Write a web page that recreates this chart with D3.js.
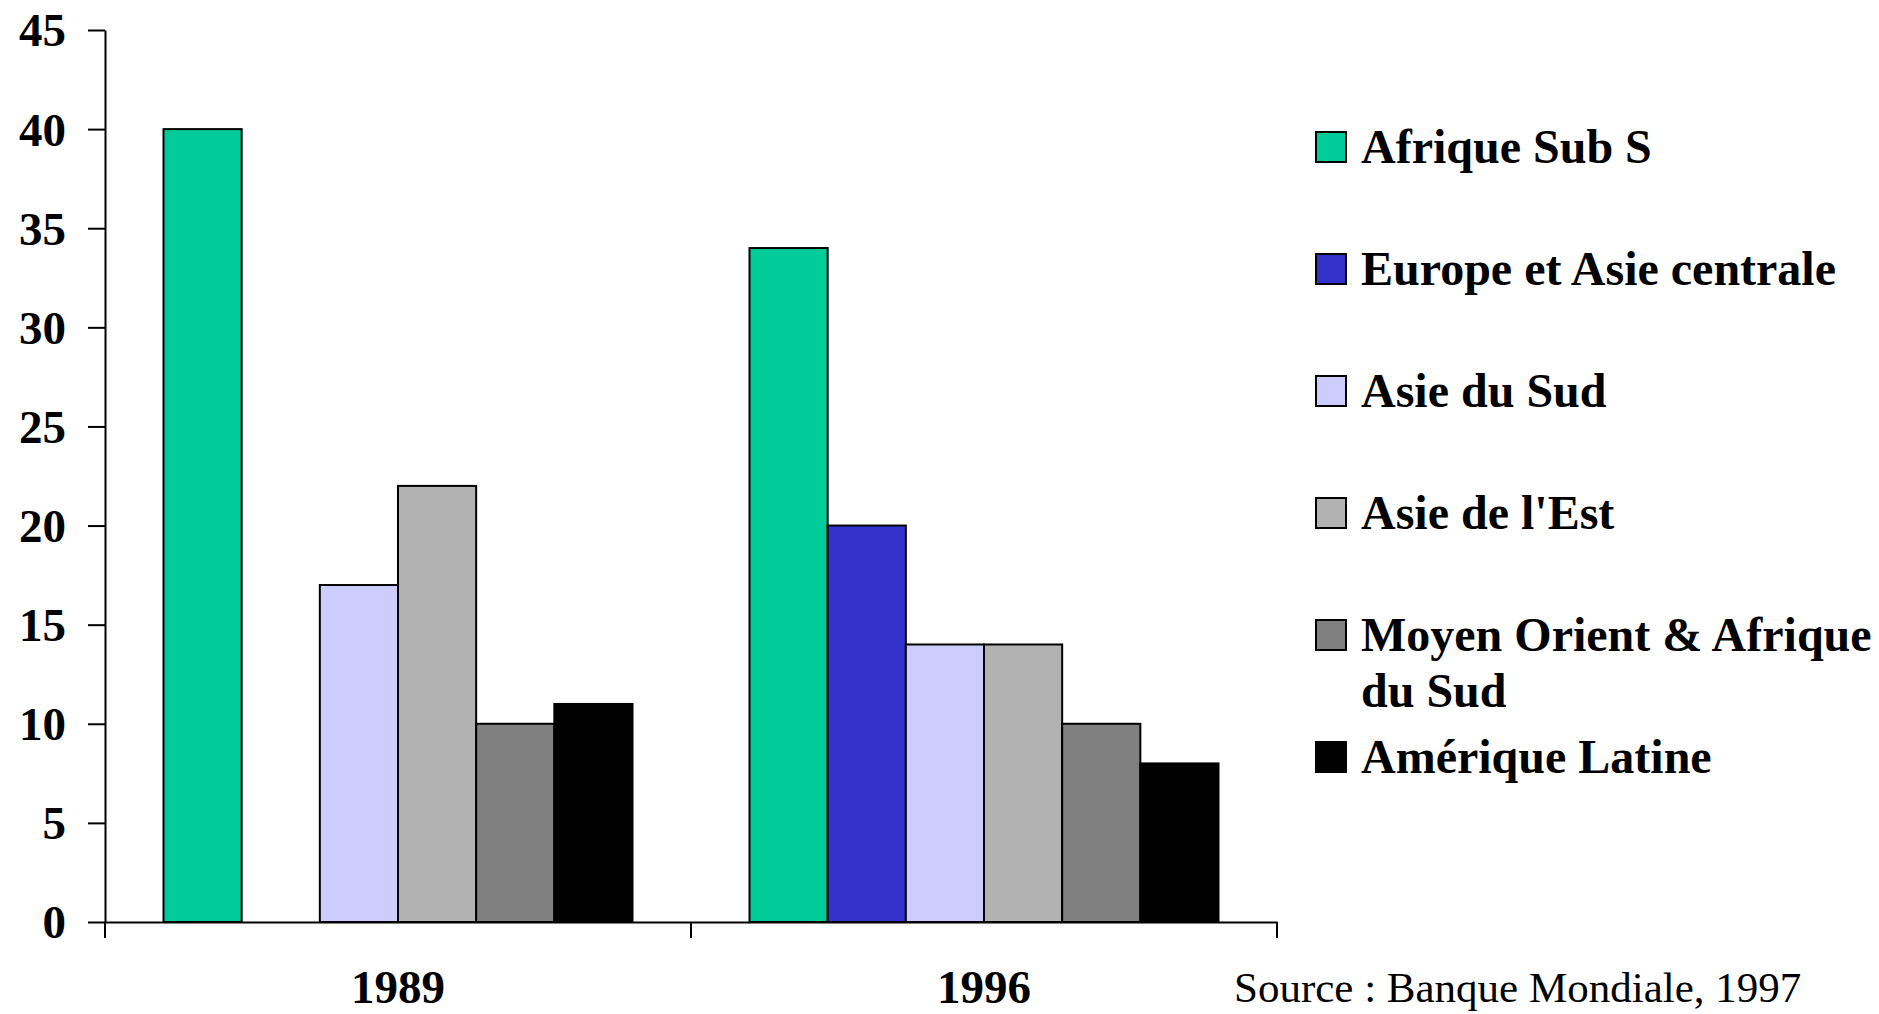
<!DOCTYPE html>
<html>
<head>
<meta charset="utf-8">
<script src="https://cdn.jsdelivr.net/npm/d3@7"></script>
<style>
    body { margin: 0; background: #fff; }
    svg text { font-family: "Liberation Serif", "Times New Roman", serif; fill: #000; }
    .axis path, .axis line { stroke: #000; stroke-width: 2px; }
    .axis text { font-size: 47px; font-weight: bold; }
    .legend text { font-size: 48px; font-weight: bold; }
    .source { font-size: 43px; }
</style>
</head>
<body>
<div id="chart"></div>
<script>
// data
var years = ['1989', '1996'];
var regions = ['Afrique Sub S', 'Europe et Asie centrale', 'Asie du Sud', "Asie de l'Est",
    'Moyen Orient & Afrique du Sud', 'Amérique Latine'];
var values1989 = [40, null, 17, 22, 10, 11];
var values1996 = [34, 20, 14, 14, 10, 8];
var yTicks = [0, 5, 10, 15, 20, 25, 30, 35, 40, 45];
var sourceText = 'Source : Banque Mondiale, 1997';

var regionColors = ['#00cc99', '#3333cc', '#ccccff', '#b2b2b2', '#808080', '#000000'];

var margin = { top: 30, right: 602, bottom: 92, left: 105 };
var totalWidth = 1879, totalHeight = 1014;
var width = totalWidth - margin.left - margin.right,
    height = totalHeight - margin.top - margin.bottom;

var svg = d3.select('#chart')
    .append('svg')
    .attr('width', totalWidth)
    .attr('height', totalHeight);

var g = svg.append('g')
    .attr('transform', 'translate(' + margin.left + ',' + margin.top + ')');

var data = years.map(function(yr, i) {
    var vals = i === 0 ? values1989 : values1996;
    return { year: yr, bars: regions.map(function(r, j) { return { region: r, value: vals[j] }; }) };
});

var x0 = d3.scaleBand()
    .domain(years)
    .range([0, width]);

var groupPad = 58.5;
var x1 = d3.scaleBand()
    .domain(regions)
    .range([groupPad, x0.bandwidth() - groupPad]);

var y = d3.scaleLinear()
    .domain([0, 45])
    .range([height, 0]);

var color = d3.scaleOrdinal()
    .domain(regions)
    .range(regionColors);

// bars
var groups = g.selectAll('.year')
    .data(data)
    .enter()
    .append('g')
    .attr('class', 'year')
    .attr('transform', function(d) { return 'translate(' + x0(d.year) + ',0)'; });

groups.selectAll('rect')
    .data(function(d) { return d.bars.filter(function(b) { return b.value != null; }); })
    .enter()
    .append('rect')
    .attr('x', function(d) { return x1(d.region); })
    .attr('width', x1.bandwidth())
    .attr('y', function(d) { return y(d.value); })
    .attr('height', function(d) { return height - y(d.value); })
    .attr('fill', function(d) { return color(d.region); })
    .attr('stroke', '#000')
    .attr('stroke-width', 2);

// y axis
var yAxis = d3.axisLeft(y)
    .tickValues(yTicks)
    .tickSize(17)
    .tickSizeOuter(0)
    .tickPadding(22);

g.append('g')
    .attr('class', 'y-axis axis')
    .call(yAxis)
    .call(function(a) { a.selectAll('text').attr('dy', '0.34em'); });

// x axis: labels at band centres, ticks at band edges
var xAxis = d3.axisBottom(x0)
    .tickSize(0)
    .tickSizeOuter(0)
    .tickPadding(48);

var xg = g.append('g')
    .attr('class', 'x-axis axis')
    .attr('transform', 'translate(0,' + height + ')')
    .call(xAxis);

var edges = [0].concat(years.map(function(d) { return x0(d) + x0.bandwidth(); }));
xg.selectAll('.edge')
    .data(edges)
    .enter()
    .append('line')
    .attr('class', 'edge')
    .attr('x1', function(d) { return d; })
    .attr('x2', function(d) { return d; })
    .attr('y1', 0)
    .attr('y2', 16);

// legend
var legend = svg.append('g')
    .attr('class', 'legend')
    .attr('transform', 'translate(1316,163)');

var items = legend.selectAll('.item')
    .data(regions)
    .enter()
    .append('g')
    .attr('class', 'item')
    .attr('transform', function(d, i) { return 'translate(0,' + (i * 122) + ')'; });

items.append('rect')
    .attr('x', 0)
    .attr('y', -31)
    .attr('width', 30)
    .attr('height', 30)
    .attr('fill', function(d) { return color(d); })
    .attr('stroke', '#000')
    .attr('stroke-width', 2);

items.append('text')
    .attr('x', 45)
    .attr('y', 0)
    .each(function(d) {
        // wrap long labels onto a second line
        var text = d3.select(this);
        var words = d.split(' ');
        var line = [];
        var tspan = text.append('tspan').attr('x', 45).attr('dy', 0);
        words.forEach(function(w) {
            line.push(w);
            tspan.text(line.join(' '));
            if (tspan.node().getComputedTextLength() > 515 && line.length > 1) {
                line.pop();
                tspan.text(line.join(' '));
                line = [w];
                tspan = text.append('tspan').attr('x', 45).attr('dy', 56).text(w);
            }
        });
    });

svg.append('text')
    .attr('class', 'source')
    .attr('x', 1234)
    .attr('y', 1002)
    .text(sourceText);
</script>
</body>
</html>
